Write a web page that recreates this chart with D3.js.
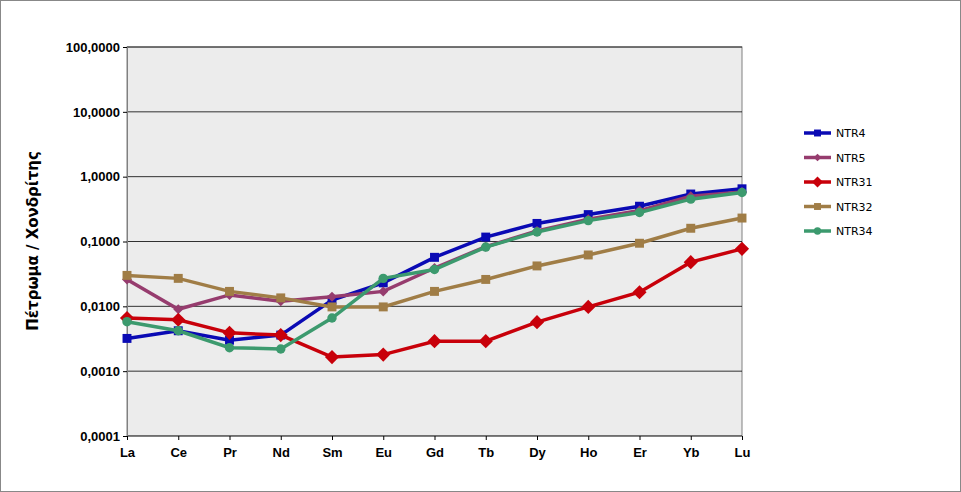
<!DOCTYPE html>
<html><head><meta charset="utf-8">
<script src="https://cdn.jsdelivr.net/npm/d3@7"></script>
<style>body{margin:0;background:#fff}svg{font-family:"DejaVu Sans",Verdana,sans-serif}</style>
</head><body><svg id="c" width="961" height="492"></svg>
<script>
const elements = ["La","Ce","Pr","Nd","Sm","Eu","Gd","Tb","Dy","Ho","Er","Yb","Lu"];
const yTicks = [100, 10, 1, 0.1, 0.01, 0.001, 0.0001];
const NTR4  = [0.0032,0.0042,0.0030,0.0036,0.0125,0.023,0.057,0.117,0.19,0.26,0.35,0.54,0.65];
const NTR5  = [0.026,0.009,0.015,0.012,0.014,0.017,0.039,0.083,0.145,0.22,0.30,0.50,0.58];
const NTR31 = [0.0066,0.0062,0.0039,0.0036,0.00165,0.0018,0.0029,0.0029,0.0057,0.0098,0.0165,0.048,0.077];
const NTR32 = [0.030,0.027,0.017,0.0135,0.0098,0.0098,0.017,0.026,0.042,0.062,0.094,0.16,0.23];
const NTR34 = [0.0058,0.0042,0.0023,0.0022,0.0066,0.027,0.037,0.082,0.14,0.21,0.28,0.45,0.57];
const series = [
  {name:"NTR4", values:NTR4, color:"#0a0ab4", sym:"sq", size:80},
  {name:"NTR5", values:NTR5, color:"#963c6e", sym:"dia", size:50},
  {name:"NTR31", values:NTR31, color:"#c8000a", sym:"dia", size:100},
  {name:"NTR32", values:NTR32, color:"#a07d46", sym:"sq", size:80},
  {name:"NTR34", values:NTR34, color:"#3c9a6e", sym:"circ", size:70}
];
const symType = {sq:d3.symbolSquare, dia:d3.symbolSquare, circ:d3.symbolCircle};
const rot = s => s.sym === "dia" ? " rotate(45)" : "";
const svg = d3.select("#c");
svg.append("rect").attr("x",0.5).attr("y",0.5).attr("width",960).attr("height",491).attr("fill","#fff").attr("stroke","#888");
const L=127,R=742,T=47,B=436;
const x = d3.scalePoint().domain(elements).range([L,R]);
const y = d3.scaleLog().domain([0.0001,100]).range([B,T]);
svg.append("rect").attr("x",L).attr("y",T).attr("width",R-L).attr("height",B-T).attr("fill","#ececec").attr("stroke","#808080");
svg.selectAll(".g").data(yTicks).join("line").attr("x1",L).attr("x2",R)
  .attr("y1",d=>y(d)).attr("y2",d=>y(d)).attr("stroke","#000").attr("stroke-width",0.8);
const fmt = d => d3.format(".4f")(d).replace(".",",");
svg.append("g").attr("transform",`translate(${L},0)`)
  .call(d3.axisLeft(y).tickValues(yTicks).tickFormat(fmt).tickSize(4))
  .call(g=>g.selectAll("text").attr("font-size",13).attr("font-weight","bold").attr("fill","#000"))
  .call(g=>g.select(".domain").attr("stroke","#808080"));
svg.append("g").attr("transform",`translate(0,${B})`)
  .call(d3.axisBottom(x).tickSize(4).tickPadding(8))
  .call(g=>g.selectAll("text").attr("font-size",13).attr("font-weight","bold").attr("fill","#000"))
  .call(g=>g.select(".domain").attr("stroke","#808080"));
svg.append("text").attr("transform","translate(38,241) rotate(-90)").attr("text-anchor","middle")
  .attr("font-size",15).attr("font-weight","bold").text("Πέτρωμα / Χονδρίτης");
const line = d3.line().x((d,i)=>x(elements[i])).y(d=>y(d));
for (const s of series) {
  svg.append("path").datum(s.values).attr("d",line).attr("fill","none").attr("stroke",s.color).attr("stroke-width",3.5);
  svg.selectAll(null).data(s.values).join("path")
    .attr("transform",(d,i)=>`translate(${x(elements[i])},${y(d)})${rot(s)}`)
    .attr("d",d3.symbol(symType[s.sym],s.size)).attr("fill",s.color);
}
const lg = svg.append("g");
series.forEach((s,i)=>{
  const ly = 133 + i*24.5;
  lg.append("line").attr("x1",804).attr("x2",831).attr("y1",ly).attr("y2",ly).attr("stroke",s.color).attr("stroke-width",3.5);
  lg.append("path").attr("transform",`translate(817.5,${ly})${rot(s)}`).attr("d",d3.symbol(symType[s.sym],s.size*0.6)).attr("fill",s.color);
  lg.append("text").attr("x",836).attr("y",ly+4).attr("font-size",11).text(s.name);
});
</script></body></html>
